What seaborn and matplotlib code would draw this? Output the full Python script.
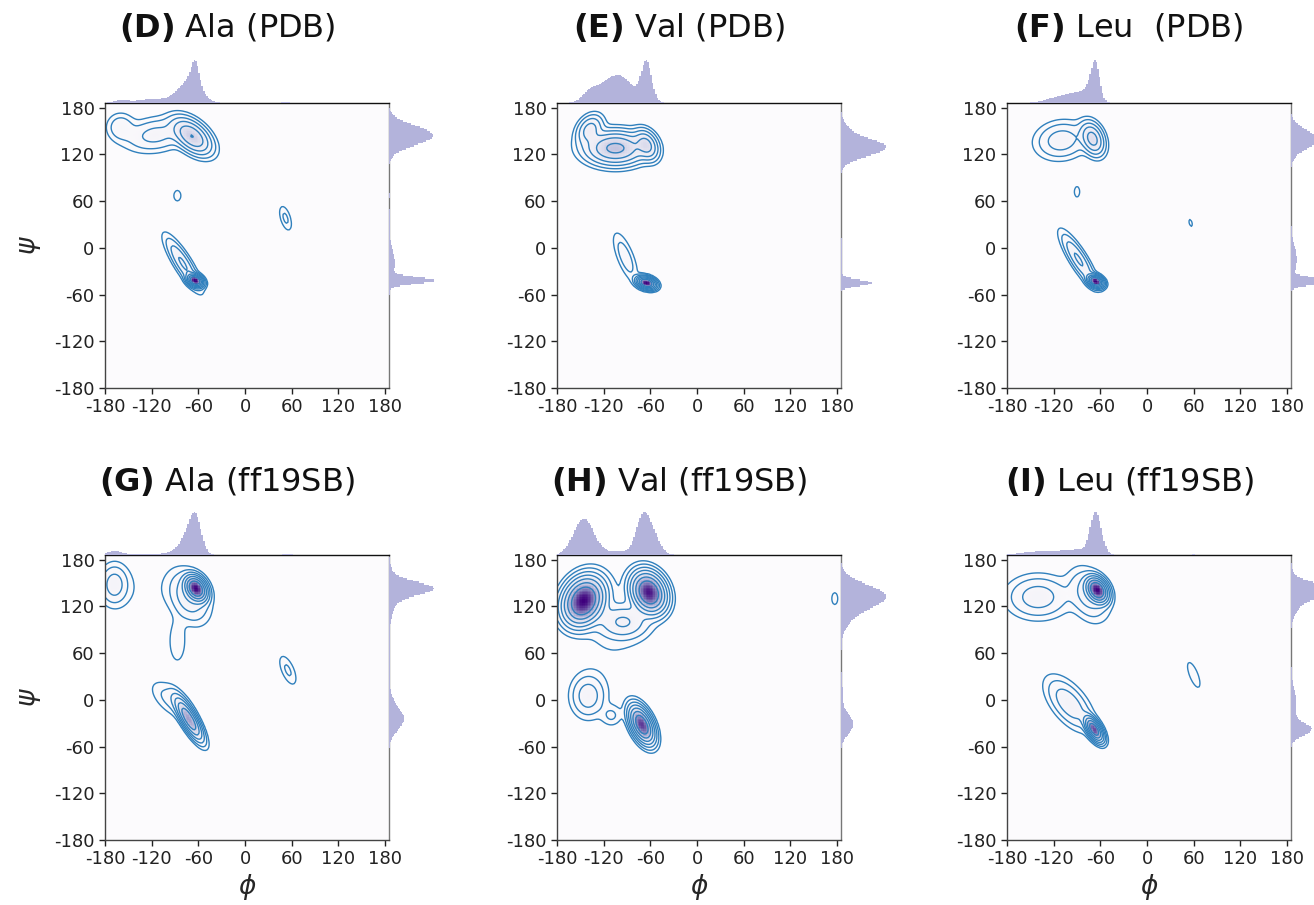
import numpy as np
import matplotlib
matplotlib.use('Agg')
import matplotlib.pyplot as plt
import seaborn as sns

# peaks: (phi, psi, sd_phi, sd_psi, corr, height)
ala_pdb = [(-64, -42, 5, 4, -0.3, 1.0), (-80, -20, 12, 18, -0.85, 0.10),
           (-68, 143, 13, 12, -0.5, 0.30), (-115, 145, 22, 12, 0.2, 0.06),
           (-160, 155, 10, 10, 0.0, 0.04), (-87, 67, 4, 6, 0.0, 0.015),
           (52, 38, 5, 10, -0.5, 0.025)]
val_pdb = [(-65, -45, 6, 4, -0.3, 1.0), (-92, -12, 9, 18, -0.7, 0.035),
           (-105, 128, 20, 11, 0.0, 0.35), (-65, 132, 8, 10, -0.3, 0.20),
           (-138, 152, 9, 10, 0.3, 0.12)]
leu_pdb = [(-66, -43, 5, 4, -0.3, 1.0), (-88, -15, 12, 18, -0.85, 0.10),
           (-70, 140, 8, 11, -0.3, 0.22), (-110, 138, 18, 13, 0.1, 0.07),
           (-90, 72, 3, 6, 0.0, 0.015), (56, 32, 2.5, 5, -0.5, 0.012)]
ala_ff = [(-63, 143, 7, 8, -0.3, 1.0), (-72, 132, 14, 18, -0.3, 0.08),
          (-87, 75, 7, 18, 0.0, 0.02), (-168, 148, 10, 14, 0.0, 0.07),
          (-130, 140, 40, 25, 0.0, 0.006), (-72, -25, 9, 14, -0.8, 0.5),
          (-95, 0, 15, 14, -0.6, 0.03), (55, 38, 7, 12, -0.6, 0.025)]
val_ff = [(-146, 127, 13, 15, 0.2, 0.85), (-62, 138, 11, 13, -0.2, 0.8),
          (-95, 100, 18, 12, 0.0, 0.08), (-110, 90, 30, 50, 0.0, 0.007),
          (177, 130, 3, 6, 0.0, 0.015), (-71, -32, 8, 12, -0.5, 0.7),
          (-140, 5, 12, 15, 0.0, 0.06), (-110, -20, 8, 8, 0.0, 0.02)]
leu_ff = [(-64, 141, 7, 8, -0.3, 1.0), (-75, 135, 14, 18, -0.3, 0.07),
          (-140, 132, 22, 15, 0.0, 0.07), (-68, -38, 6, 8, -0.6, 0.8),
          (-100, -5, 16, 18, -0.6, 0.08), (60, 32, 6, 12, -0.7, 0.02)]

panels = [ala_pdb, val_pdb, leu_pdb, ala_ff, val_ff, leu_ff]
titles = [r'$\mathbf{(D)}$ Ala (PDB)', r'$\mathbf{(E)}$ Val (PDB)', r'$\mathbf{(F)}$ Leu  (PDB)',
          r'$\mathbf{(G)}$ Ala (ff19SB)', r'$\mathbf{(H)}$ Val (ff19SB)', r'$\mathbf{(I)}$ Leu (ff19SB)']
ticks = [-180, -120, -60, 0, 60, 120, 180]
contour_levels = [0.008, 0.02, 0.045, 0.09, 0.17, 0.3, 0.5]

edges = np.arange(-180, 188, 2)
centers = (edges[:-1] + edges[1:]) / 2
PHI, PSI = np.meshgrid(centers, centers)
bin_list = list(edges)


def density(peaks):
    z = np.zeros_like(PHI)
    for phi0, psi0, sx, sy, rho, amp in peaks:
        dx = (PHI - phi0) / sx
        dy = (PSI - psi0) / sy
        q = (dx ** 2 - 2 * rho * dx * dy + dy ** 2) / (1 - rho ** 2)
        z += amp * np.exp(-0.5 * q)
    return z


sns.set_style('white')
plt.rcParams['font.family'] = ['DejaVu Sans']
plt.rcParams['axes.unicode_minus'] = False

W, H = 1314, 905
fig = plt.figure(figsize=(W / 100, H / 100), dpi=100)
lav = '#b3b3db'
line_blue = '#3080bd'

col_left = [105, 557, 1007]
row_top = [103, 555]
aw, ah = 284, 285
mh, mw = 45, 47


def px_axes(x0, y0, w, h):
    return fig.add_axes([x0 / W, 1 - (y0 + h) / H, w / W, h / H])


for k, peaks in enumerate(panels):
    r, c = divmod(k, 3)
    x0, y0 = col_left[c], row_top[r]
    ax = px_axes(x0, y0, aw, ah)
    z = density(peaks)
    ax.set_facecolor(plt.get_cmap('Purples')(0.0))
    sns.histplot(x=PHI.ravel(), y=PSI.ravel(), weights=z.ravel(), bins=[bin_list, bin_list],
                 cmap='Purples', thresh=None, ax=ax)
    ax.contour(centers, centers, z, levels=np.array(contour_levels) * z.max(),
               colors=line_blue, linewidths=1.0)
    ax.set_xlim(-180, 185)
    ax.set_ylim(-180, 186)
    ax.set_xticks(ticks)
    ax.set_yticks(ticks)
    ax.set_xlabel('')
    ax.set_ylabel('')
    ax.tick_params(labelsize=13, length=4, width=1, direction='out',
                   bottom=True, left=True, colors='#222222')
    for s in ax.spines.values():
        s.set_color('#444444')
        s.set_linewidth(1.0)
    ax.spines['top'].set_color('#111111')
    ax.spines['right'].set_color('#777777')

    # marginals
    ax_top = px_axes(x0, y0 - mh, aw, mh)
    top = z.sum(axis=0)
    sns.histplot(x=list(centers), weights=list(top), bins=bin_list, ax=ax_top,
                 element='step', fill=True, color=lav, alpha=1, linewidth=0)
    ax_top.set_xlim(-180, 185)
    ax_top.set_ylim(0, top.max() * 1.04)
    ax_top.axis('off')

    ax_right = px_axes(x0 + aw, y0, mw, ah)
    side = z.sum(axis=1)
    sns.histplot(y=list(centers), weights=list(side), bins=bin_list, ax=ax_right,
                 element='step', fill=True, color=lav, alpha=1, linewidth=0)
    ax_right.set_ylim(-180, 186)
    ax_right.set_xlim(0, side.max() * 1.04)
    ax_right.axis('off')

    title_y = 28 if r == 0 else 481
    fig.text((x0 + 122) / W, 1 - title_y / H, titles[k], fontsize=23,
             ha='center', va='center', color='#111111')
    if c == 0:
        fig.text(30 / W, 1 - (y0 + ah / 2) / H, r'$\psi$', fontsize=19,
                 rotation=90, ha='center', va='center')
    if r == 1:
        fig.text((x0 + aw / 2) / W, 1 - 887 / H, r'$\phi$', fontsize=19,
                 ha='center', va='center')

fig.savefig('out.png', dpi=100)
